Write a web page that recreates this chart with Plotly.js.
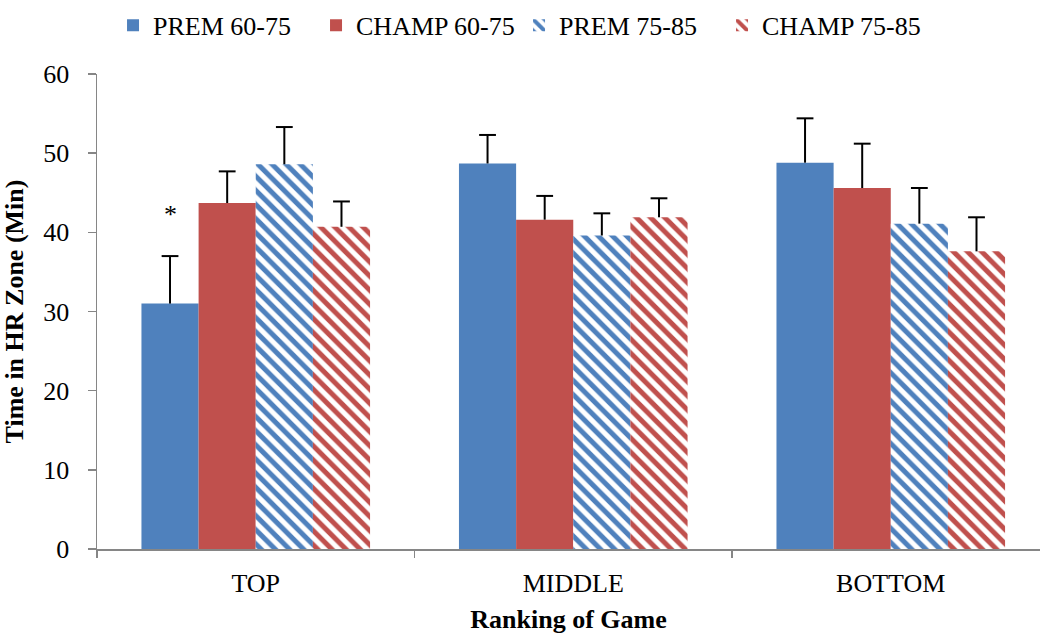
<!DOCTYPE html>
<html>
<head>
<meta charset="utf-8">
<script src="https://cdn.plot.ly/plotly-3.0.1.min.js"></script>
<style>html,body{margin:0;padding:0;background:#fff;}#chart{width:1040px;height:639px;}</style>
</head>
<body>
<div id="chart"></div>
<script>
const categories = ["TOP", "MIDDLE", "BOTTOM"];
const seriesNames = ["PREM 60-75", "CHAMP 60-75", "PREM 75-85", "CHAMP 75-85"];
const prem6075 = [31.0, 48.7, 48.8];
const champ6075 = [43.7, 41.6, 45.6];
const prem7585 = [48.6, 39.6, 41.1];
const champ7585 = [40.7, 41.9, 37.6];
const prem6075Err = [6.0, 3.6, 5.6];
const champ6075Err = [4.0, 3.0, 5.6];
const prem7585Err = [4.7, 2.8, 4.5];
const champ7585Err = [3.2, 2.4, 4.3];
const yTickVals = [0, 10, 20, 30, 40, 50, 60];

const BLUE = "#4F81BD", RED = "#C0504D";
const FONT = "Liberation Serif, serif";

function bar(name, y, color, hatched) {
  const marker = { color: color, line: { width: 0 } };
  if (hatched) {
    marker.color = "#ffffff";
    marker.pattern = { shape: "\\", fgcolor: color, bgcolor: "#ffffff", fgopacity: 1,
                       size: 10, solidity: 0.5, fillmode: "replace" };
  }
  return { type: "bar", name: name, x: categories, y: y, marker: marker, hoverinfo: "skip" };
}

// plus-only error whiskers: marker cap at the top, line down to the bar top
function whisker(name, y, err) {
  return {
    type: "scatter", mode: "markers", name: name + " err", showlegend: false, hoverinfo: "skip",
    x: categories, y: y.map((v, i) => v + err[i]),
    marker: { symbol: "line-ew", size: 12, color: "#000000", line: { color: "#000000", width: 2 } },
    error_y: { type: "data", symmetric: false, array: err.map(() => 0), arrayminus: err,
               color: "#000000", thickness: 2, width: 0 }
  };
}

const data = [
  bar(seriesNames[0], prem6075, BLUE, false),
  bar(seriesNames[1], champ6075, RED, false),
  bar(seriesNames[2], prem7585, BLUE, true),
  bar(seriesNames[3], champ7585, RED, true),
  whisker(seriesNames[0], prem6075, prem6075Err),
  whisker(seriesNames[1], champ6075, champ6075Err),
  whisker(seriesNames[2], prem7585, prem7585Err),
  whisker(seriesNames[3], champ7585, champ7585Err)
];

const layout = {
  width: 1040, height: 639,
  margin: { l: 97, r: 0, t: 74, b: 90, pad: 0 },
  paper_bgcolor: "#ffffff", plot_bgcolor: "#ffffff",
  font: { family: FONT, size: 26, color: "#000000" },
  barmode: "group", bargap: 0.28, bargroupgap: 0,
  scattermode: "group", scattergap: 0.28,
  showlegend: true,
  legend: { orientation: "h", x: 0.017, xanchor: "left", y: 1.152, yanchor: "top",
            entrywidth: 158, entrywidthmode: "pixels",
            font: { family: FONT, size: 26, color: "#000000" }, itemclick: false, traceorder: "normal" },
  xaxis: {
    type: "category", range: [-0.5, 2.47], tickson: "boundaries",
    showline: true, linecolor: "#868686", linewidth: 1.5,
    ticks: "outside", ticklen: 7, tickcolor: "#868686", tickwidth: 1.5,
    ticklabelstandoff: 10,
    showgrid: false, zeroline: false,
    tickfont: { family: FONT, size: 26 },
    title: { text: "<b>Ranking of Game</b>", font: { family: FONT, size: 26 }, standoff: 13 }
  },
  yaxis: {
    range: [0, 60], tickvals: yTickVals, ticktext: yTickVals.map(String),
    showline: true, linecolor: "#868686", linewidth: 1.5,
    ticks: "outside", ticklen: 8, tickcolor: "#868686", tickwidth: 1.5,
    ticklabelstandoff: 13,
    showgrid: false, zeroline: false,
    tickfont: { family: FONT, size: 26 },
    title: { text: "<b>Time in HR Zone (Min)</b>", font: { family: FONT, size: 26 }, standoff: 12 }
  },
  annotations: [
    { text: "*", xref: "x", yref: "y", x: -0.27, y: 42.2, showarrow: false,
      font: { family: FONT, size: 26, color: "#000000" }, yanchor: "middle" }
  ]
};

Plotly.newPlot("chart", data, layout, { displayModeBar: false, staticPlot: true });
</script>
</body>
</html>
